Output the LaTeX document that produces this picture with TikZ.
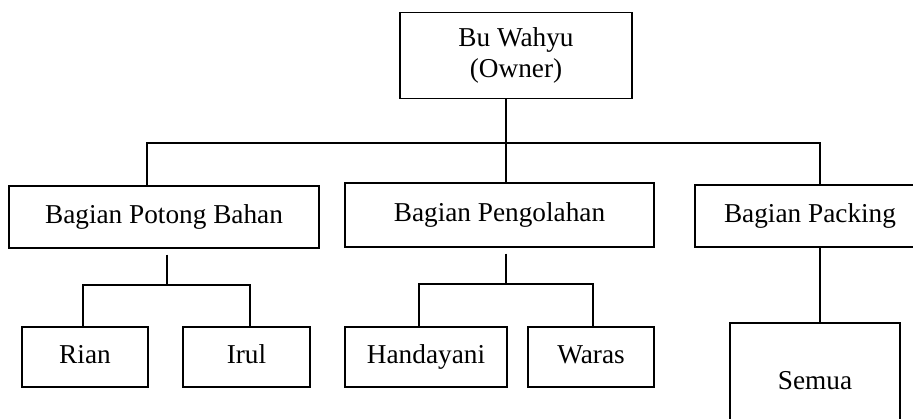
\documentclass[tikz,border=0pt]{standalone}
\usepackage{fontspec}
\setmainfont{Liberation Serif}
\tikzset{
    box/.style={draw, line width=0.7pt, inner sep=0pt, font=\fontsize{12}{14}\selectfont},
    word/.style={box, text height=8.2pt, text depth=2.6pt},
    stub/.style={shorten <=2.6pt}
}
\begin{document}
\begin{tikzpicture}[x=0.44pt,y=-0.44pt,line width=0.7pt]

\clip (0,0) rectangle (913,419);

% Pemilik
\node[box, minimum width=102pt, minimum height=38pt, align=center]
(owner) at (516,55.5) {Bu Wahyu\\(Owner)};

% Bagian
\node[word, minimum width=136.4pt, minimum height=27.3pt]
(potong) at (164,217) {Bagian Potong Bahan};
\node[word, minimum width=136pt, minimum height=28.2pt]
(olah) at (499.5,215) {Bagian Pengolahan};
\node[word, minimum width=101.2pt, minimum height=27.3pt]
(pack) at (810,216) {Bagian Packing};

% Pekerja
\node[word, minimum width=55.4pt, minimum height=26.4pt]
(rian) at (85,357) {Rian};
\node[word, minimum width=55.9pt, minimum height=26.4pt]
(irul) at (246.5,357) {Irul};
\node[word, minimum width=71.3pt, minimum height=26.4pt]
(handa) at (426,357) {Handayani};
\node[word, minimum width=55.4pt, minimum height=26.4pt]
(waras) at (591,357) {Waras};
\node[word, minimum width=74.8pt, minimum height=52.8pt]
(semua) at (815,383) {Semua};

% Garis
\coordinate (j0) at (506,143);
\coordinate (jA) at (167,285);
\coordinate (jB) at (506,284);
\coordinate (jC) at (820,0);

\draw (owner.south -| j0) -- (j0);
\draw (potong.north -| 147,0) |- (j0) -| (pack.north -| jC);
\draw (olah.north -| j0) -- (j0);

\draw[stub] (potong.south -| jA) -- (jA);
\draw (rian.north -| 83,0) |- (jA) -| (irul.north -| 250,0);

\draw[stub] (olah.south -| jB) -- (jB);
\draw (handa.north -| 419,0) |- (jB) -| (waras.north -| 593,0);

\draw (pack.south -| jC) -- (semua.north -| jC);

\end{tikzpicture}
\end{document}
